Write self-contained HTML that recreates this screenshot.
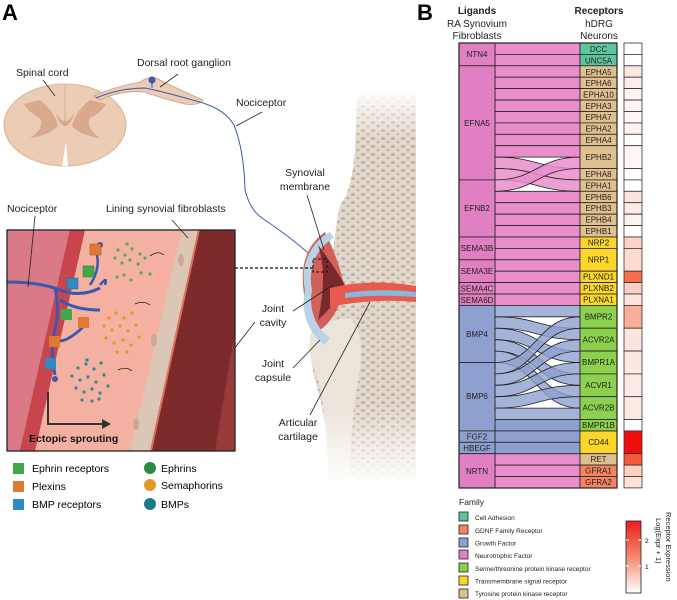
<!DOCTYPE html>
<html><head><meta charset="utf-8"><style>
body{margin:0;background:#fff;}
svg{display:block;font-family:"Liberation Sans",sans-serif;}
</style></head><body>
<svg width="677" height="600" viewBox="0 0 677 600" xmlns="http://www.w3.org/2000/svg">
<defs>
<linearGradient id="fadeTop" x1="0" y1="0" x2="0" y2="1">
<stop offset="0" stop-color="#fff" stop-opacity="1"/><stop offset="0.12" stop-color="#fff" stop-opacity="0"/>
</linearGradient>
<linearGradient id="fadeBot" x1="0" y1="0" x2="0" y2="1">
<stop offset="0.8" stop-color="#fff" stop-opacity="0"/><stop offset="1" stop-color="#fff" stop-opacity="1"/>
</linearGradient>
<linearGradient id="cbar" x1="0" y1="1" x2="0" y2="0">
<stop offset="0" stop-color="#fff"/><stop offset="0.5" stop-color="#f58a6f"/><stop offset="1" stop-color="#ee1c1c"/>
</linearGradient>
<clipPath id="inset"><rect x="7" y="230" width="228" height="221"/></clipPath>
<pattern id="spots" width="10" height="8" patternUnits="userSpaceOnUse">
<rect width="10" height="8" fill="#e2d9ce"/>
<ellipse cx="3" cy="2.5" rx="2.3" ry="1.5" fill="#c4b3a2"/><ellipse cx="8" cy="6" rx="1.8" ry="1.3" fill="#c4b3a2"/>
</pattern>
</defs>

<text x="2" y="20" font-size="22" font-weight="bold">A</text>
<text x="417" y="20" font-size="22" font-weight="bold">B</text>

<!-- Spinal cord -->
<ellipse cx="65" cy="125" rx="61" ry="41" fill="#ecccb4" stroke="#d8b49a" stroke-width="1"/>
<path d="M62,166 L68,166 L66,142 Z" fill="#fff"/>
<path d="M40,100 Q55,112 58,126 Q50,135 30,138 Q45,128 40,118 Q28,112 24,104 Z M90,100 Q75,112 72,126 Q80,135 100,138 Q85,128 90,118 Q102,112 106,104 Z" fill="#d9a88e"/>
<path d="M55,112 Q65,130 75,112 Q65,140 55,112" fill="#d9a88e"/>
<line x1="65" y1="86" x2="65" y2="126" stroke="#c9a088" stroke-width="0.6"/>
<text x="16" y="76" font-size="10.5" fill="#222">Spinal cord</text>
<line x1="43" y1="80" x2="55" y2="96" stroke="#222" stroke-width="0.8"/>
<!-- DRG -->
<path d="M94,96 Q110,88 140,82 Q152,74 160,80 Q180,90 203,100 Q198,106 185,104 Q160,98 145,92 Q120,90 100,100 Z" fill="#ecccb4" stroke="#c7a07e" stroke-width="0.8"/>
<circle cx="152" cy="80" r="3.5" fill="#3b58b0"/>
<path d="M96,98 Q120,88 145,88 Q165,92 203,103 Q225,110 234,125 Q244,150 245,190 Q250,210 262,218 Q295,240 318,262" fill="none" stroke="#3b58b0" stroke-width="1"/>
<path d="M152,80 L152,88" stroke="#3b58b0" stroke-width="1"/>
<text x="137" y="66" font-size="10.5" fill="#222">Dorsal root ganglion</text>
<line x1="160" y1="87" x2="178" y2="74" stroke="#222" stroke-width="0.8"/>
<text x="236" y="106" font-size="10.5" fill="#222">Nociceptor</text>
<line x1="236" y1="126" x2="262" y2="112" stroke="#222" stroke-width="0.8"/>

<!-- Joint -->
<path d="M357,95 L416,95 L416,480 L330,480 Q330,430 315,380 Q305,340 318,320 Q335,300 365,300 Q330,290 333,250 Q336,225 340,205 Q352,190 355,150 Z" fill="url(#spots)"/>
<path d="M312,330 Q325,320 350,318 Q365,330 360,370 Q350,420 350,480 L328,480 Q328,420 318,380 Q305,350 312,330 Z" fill="#ebe4da"/>
<path d="M303,285 Q300,250 325,232 Q340,262 345,290 Q335,320 320,330 Q305,315 303,285 Z" fill="#d2605a"/>
<path d="M305,290 A45,50 0 0 1 330,232 L334,238 A40,45 0 0 0 312,290 A40,45 0 0 0 330,338 L325,345 A45,50 0 0 1 305,290 Z" fill="#b8d3e6"/>
<path d="M318,245 Q328,275 318,320 Q340,300 345,285 Q330,260 318,245 Z" fill="#7a2a2a"/>
<path d="M330,288 Q370,278 416,286 L416,302 Q370,298 330,307 Z" fill="#e85a4e"/>
<path d="M345,293 Q380,288 416,292 L416,297 Q380,294 345,298 Z" fill="#8ab8da"/>
<rect x="295" y="90" width="125" height="395" fill="url(#fadeTop)"/>
<rect x="295" y="90" width="125" height="395" fill="url(#fadeBot)"/>
<rect x="313" y="259" width="14" height="13" fill="none" stroke="#111" stroke-width="1" stroke-dasharray="3,2"/>
<line x1="235" y1="268" x2="313" y2="268" stroke="#111" stroke-width="1.2" stroke-dasharray="3,2"/>
<text x="305" y="176" font-size="10.5" fill="#222" text-anchor="middle">Synovial</text>
<text x="305" y="190" font-size="10.5" fill="#222" text-anchor="middle">membrane</text>
<line x1="307" y1="195" x2="324" y2="250" stroke="#222" stroke-width="0.8"/>
<text x="273" y="312" font-size="10.5" fill="#222" text-anchor="middle">Joint</text>
<text x="273" y="326" font-size="10.5" fill="#222" text-anchor="middle">cavity</text>
<line x1="293" y1="311" x2="333" y2="285" stroke="#222" stroke-width="0.8"/>
<text x="273" y="367" font-size="10.5" fill="#222" text-anchor="middle">Joint</text>
<text x="273" y="381" font-size="10.5" fill="#222" text-anchor="middle">capsule</text>
<line x1="293" y1="368" x2="320" y2="340" stroke="#222" stroke-width="0.8"/>
<text x="298" y="426" font-size="10.5" fill="#222" text-anchor="middle">Articular</text>
<text x="298" y="440" font-size="10.5" fill="#222" text-anchor="middle">cartilage</text>
<line x1="310" y1="415" x2="370" y2="302" stroke="#222" stroke-width="0.8"/>
<line x1="223" y1="363" x2="255" y2="322" stroke="#222" stroke-width="0.8"/>

<!-- Inset -->
<g clip-path="url(#inset)">
<rect x="7" y="230" width="228" height="221" fill="#8a3030"/>
<polygon points="7,230 70,230 20,451 7,451" fill="#d97a86"/>
<polygon points="70,230 85,230 35,451 20,451" fill="#c9454d"/>
<polygon points="85,230 182,230 135,451 35,451" fill="#f4b1a1"/>
<polygon points="182,230 198,230 150,451 130,451" fill="#dcc6b6"/>
<polygon points="198,230 200,230 152,451 150,451" fill="#e07060"/>
<polygon points="200,230 235,230 235,451 152,451" fill="#7c2a2a"/>
<polygon points="215,451 235,330 235,451" fill="#963a3a"/>
<ellipse cx="181" cy="260" rx="3" ry="6" fill="#c9aa98"/>
<ellipse cx="154" cy="340" rx="3" ry="6" fill="#c9aa98"/>
<ellipse cx="136" cy="424" rx="3" ry="6" fill="#c9aa98"/>
</g>
<path d="M7,282 Q40,282 60,290 Q80,298 100,288 M55,288 Q60,310 55,330 Q50,350 55,375 M60,300 Q75,310 100,310 M55,340 Q65,345 85,325" fill="none" stroke="#3b58b0" stroke-width="3"/>
<path d="M90,285 Q100,270 97,255 M100,285 Q108,275 105,285" fill="none" stroke="#3b58b0" stroke-width="2.5"/>
<circle cx="100" cy="245" r="3" fill="#3b58b0"/>
<circle cx="55" cy="379" r="3" fill="#3b58b0"/>
<rect x="90" y="244" width="11" height="11" fill="#e07a30" stroke="#a05020" stroke-width="0.5"/>
<rect x="83" y="266" width="11" height="11" fill="#41a84a" stroke="#2a7a30" stroke-width="0.5"/>
<rect x="67" y="278" width="11" height="11" fill="#2f8ac4" stroke="#1a6090" stroke-width="0.5"/>
<rect x="61" y="309" width="11" height="11" fill="#41a84a"/>
<rect x="78" y="317" width="11" height="11" fill="#e07a30"/>
<rect x="49" y="336" width="11" height="11" fill="#e07a30"/>
<rect x="45" y="358" width="11" height="11" fill="#2f8ac4"/>
<g fill="#56a860">
<circle cx="118" cy="250" r="1.6"/><circle cx="125" cy="255" r="1.6"/><circle cx="132" cy="249" r="1.6"/><circle cx="140" cy="254" r="1.6"/><circle cx="115" cy="258" r="1.6"/><circle cx="122" cy="263" r="1.6"/><circle cx="130" cy="260" r="1.6"/><circle cx="138" cy="264" r="1.6"/><circle cx="145" cy="258" r="1.6"/><circle cx="127" cy="244" r="1.6"/><circle cx="117" cy="277" r="1.6"/><circle cx="124" cy="275" r="1.6"/><circle cx="131" cy="280" r="1.6"/><circle cx="141" cy="273" r="1.6"/><circle cx="150" cy="274" r="1.6"/>
</g>
<g fill="#e39a25">
<circle cx="109" cy="318" r="1.6"/><circle cx="116" cy="313" r="1.6"/><circle cx="124" cy="318" r="1.6"/><circle cx="132" cy="313" r="1.6"/><circle cx="104" cy="326" r="1.6"/><circle cx="112" cy="330" r="1.6"/><circle cx="120" cy="326" r="1.6"/><circle cx="128" cy="331" r="1.6"/><circle cx="136" cy="325" r="1.6"/><circle cx="106" cy="338" r="1.6"/><circle cx="114" cy="343" r="1.6"/><circle cx="123" cy="340" r="1.6"/><circle cx="131" cy="345" r="1.6"/><circle cx="139" cy="337" r="1.6"/><circle cx="117" cy="352" r="1.6"/><circle cx="127" cy="352" r="1.6"/>
</g>
<g fill="#2a8a9a">
<circle cx="78" cy="368" r="1.6"/><circle cx="86" cy="364" r="1.6"/><circle cx="94" cy="369" r="1.6"/><circle cx="101" cy="363" r="1.6"/><circle cx="72" cy="376" r="1.6"/><circle cx="80" cy="380" r="1.6"/><circle cx="88" cy="377" r="1.6"/><circle cx="96" cy="382" r="1.6"/><circle cx="104" cy="375" r="1.6"/><circle cx="76" cy="388" r="1.6"/><circle cx="84" cy="392" r="1.6"/><circle cx="92" cy="389" r="1.6"/><circle cx="100" cy="393" r="1.6"/><circle cx="108" cy="386" r="1.6"/><circle cx="82" cy="400" r="1.6"/><circle cx="92" cy="401" r="1.6"/><circle cx="99" cy="399" r="1.6"/><circle cx="87" cy="360" r="1.6"/>
</g>
<g fill="none" stroke="#222" stroke-width="0.8">
<path d="M150,256 Q158,250 164,255"/><path d="M135,304 Q143,300 150,305"/><path d="M118,370 Q126,366 132,371"/>
</g>
<path d="M48,392 L48,424 L104,424" fill="none" stroke="#333" stroke-width="2"/>
<polygon points="102,419 111,424 102,429" fill="#333"/>
<text x="29" y="442" font-size="10.5" font-weight="bold" fill="#111">Ectopic sprouting</text>
<rect x="7" y="230" width="228" height="221" fill="none" stroke="#222" stroke-width="1.3"/>
<text x="7" y="212" font-size="10.5" fill="#222">Nociceptor</text>
<line x1="35" y1="216" x2="28" y2="287" stroke="#222" stroke-width="0.8"/>
<text x="106" y="212" font-size="10.5" fill="#222">Lining synovial fibroblasts</text>
<line x1="172" y1="220" x2="188" y2="238" stroke="#222" stroke-width="0.8"/>

<rect x="13" y="463" width="11" height="11" fill="#41a84a"/><text x="32" y="472" font-size="10.5">Ephrin receptors</text>
<rect x="13" y="481" width="11" height="11" fill="#e07a30"/><text x="32" y="490" font-size="10.5">Plexins</text>
<rect x="13" y="499" width="11" height="11" fill="#2f8ac4"/><text x="32" y="508" font-size="10.5">BMP receptors</text>
<circle cx="150" cy="468" r="6" fill="#2e8a40"/><text x="161" y="472" font-size="10.5">Ephrins</text>
<circle cx="150" cy="485" r="6" fill="#e39a25"/><text x="161" y="489" font-size="10.5">Semaphorins</text>
<circle cx="150" cy="504" r="6" fill="#1a7a8a"/><text x="161" y="508" font-size="10.5">BMPs</text>

<g font-size="10" fill="#222" text-anchor="middle">
<text x="477" y="14" font-weight="bold">Ligands</text><text x="477" y="27">RA Synovium</text><text x="477" y="39">Fibroblasts</text>
<text x="599" y="14" font-weight="bold">Receptors</text><text x="599" y="27">hDRG</text><text x="599" y="39">Neurons</text>
</g>

<g stroke="#222" stroke-width="0.8">
<g fill="#e98ecb">
<rect x="495" y="43" width="85" height="11.4"/><rect x="495" y="54.4" width="85" height="11.4"/><rect x="495" y="65.8" width="85" height="11.4"/><rect x="495" y="77.2" width="85" height="11.4"/><rect x="495" y="88.6" width="85" height="11.4"/><rect x="495" y="100.1" width="85" height="11.4"/><rect x="495" y="111.5" width="85" height="11.4"/><rect x="495" y="122.9" width="85" height="11.4"/><rect x="495" y="134.3" width="85" height="11.4"/><rect x="495" y="145.7" width="85" height="11.4"/>
<rect x="495" y="191.3" width="85" height="11.4"/><rect x="495" y="202.7" width="85" height="11.4"/><rect x="495" y="214.2" width="85" height="11.4"/><rect x="495" y="225.6" width="85" height="11.4"/><rect x="495" y="237" width="85" height="11.4"/><rect x="495" y="248.4" width="85" height="11.4"/><rect x="495" y="259.8" width="85" height="11.4"/><rect x="495" y="271.2" width="85" height="11.4"/><rect x="495" y="282.6" width="85" height="11.4"/><rect x="495" y="294" width="85" height="11.4"/>
<rect x="495" y="453.7" width="85" height="11.4"/><rect x="495" y="465.1" width="85" height="11.4"/><rect x="495" y="476.5" width="85" height="11.4"/>
</g>
<g fill="#e98ecb" fill-opacity="0.85">
<path d="M495,157.1 C537,157.1 537,168.5 580,168.5 L580,179.9 C537,179.9 537,168.5 495,168.5 Z"/>
<path d="M495,168.5 C537,168.5 537,179.9 580,179.9 L580,191.3 C537,191.3 537,179.9 495,179.9 Z"/>
<path d="M495,179.9 C537,179.9 537,157.1 580,157.1 L580,168.5 C537,168.5 537,191.3 495,191.3 Z"/>
</g>
<g fill="#8ea0d0">
<rect x="495" y="419.5" width="85" height="11.4"/><rect x="495" y="430.9" width="85" height="11.4"/><rect x="495" y="442.3" width="85" height="11.4"/>
</g>
<g fill="#8ea0d0" fill-opacity="0.8">
<path d="M495,305.4 L580,305.4 L580,316.8 L495,316.8 Z"/>
<path d="M495,316.8 C537,316.8 537,328.3 580,328.3 L580,339.7 C537,339.7 537,328.2 495,328.2 Z"/>
<path d="M495,328.2 C537,328.2 537,351.1 580,351.1 L580,362.5 C537,362.5 537,339.7 495,339.7 Z"/>
<path d="M495,339.7 C537,339.7 537,373.9 580,373.9 L580,385.3 C537,385.3 537,351.1 495,351.1 Z"/>
<path d="M495,351.1 C537,351.1 537,396.7 580,396.7 L580,408.1 C537,408.1 537,362.5 495,362.5 Z"/>
<path d="M495,362.5 C537,362.5 537,316.8 580,316.8 L580,328.3 C537,328.3 537,373.9 495,373.9 Z"/>
<path d="M495,373.9 C537,373.9 537,339.7 580,339.7 L580,351.1 C537,351.1 537,385.3 495,385.3 Z"/>
<path d="M495,385.3 C537,385.3 537,362.5 580,362.5 L580,373.9 C537,373.9 537,396.7 495,396.7 Z"/>
<path d="M495,396.7 C537,396.7 537,385.3 580,385.3 L580,396.7 C537,396.7 537,408.1 495,408.1 Z"/>
<path d="M495,408.1 L580,408.1 L580,419.5 L495,419.5 Z"/>
</g>
<rect x="459" y="43" width="36" height="22.8" fill="#e07fc1"/>
<rect x="459" y="65.8" width="36" height="114.1" fill="#e07fc1"/>
<rect x="459" y="179.9" width="36" height="57.1" fill="#e07fc1"/>
<rect x="459" y="237" width="36" height="22.8" fill="#e07fc1"/>
<rect x="459" y="259.8" width="36" height="22.8" fill="#e07fc1"/>
<rect x="459" y="282.6" width="36" height="11.4" fill="#e07fc1"/>
<rect x="459" y="294" width="36" height="11.4" fill="#e07fc1"/>
<rect x="459" y="305.4" width="36" height="57.1" fill="#8ea0d0"/>
<rect x="459" y="362.5" width="36" height="68.4" fill="#8ea0d0"/>
<rect x="459" y="430.9" width="36" height="11.4" fill="#8ea0d0"/>
<rect x="459" y="442.3" width="36" height="11.4" fill="#8ea0d0"/>
<rect x="459" y="453.7" width="36" height="34.3" fill="#e07fc1"/>
<rect x="580" y="43" width="37" height="11.4" fill="#5cc69e"/><rect x="580" y="54.4" width="37" height="11.4" fill="#5cc69e"/>
<g fill="#e0c08e">
<rect x="580" y="65.8" width="37" height="11.4"/><rect x="580" y="77.2" width="37" height="11.4"/><rect x="580" y="88.6" width="37" height="11.4"/><rect x="580" y="100.1" width="37" height="11.4"/><rect x="580" y="111.5" width="37" height="11.4"/><rect x="580" y="122.9" width="37" height="11.4"/><rect x="580" y="134.3" width="37" height="11.4"/><rect x="580" y="145.7" width="37" height="22.8"/><rect x="580" y="168.5" width="37" height="11.4"/><rect x="580" y="179.9" width="37" height="11.4"/><rect x="580" y="191.3" width="37" height="11.4"/><rect x="580" y="202.7" width="37" height="11.4"/><rect x="580" y="214.2" width="37" height="11.4"/><rect x="580" y="225.6" width="37" height="11.4"/>
</g>
<g fill="#fdd62a">
<rect x="580" y="237" width="37" height="11.4"/><rect x="580" y="248.4" width="37" height="22.8"/><rect x="580" y="271.2" width="37" height="11.4"/><rect x="580" y="282.6" width="37" height="11.4"/><rect x="580" y="294" width="37" height="11.4"/><rect x="580" y="430.9" width="37" height="22.8"/>
</g>
<g fill="#8dd04e">
<rect x="580" y="305.4" width="37" height="22.8"/><rect x="580" y="328.2" width="37" height="22.8"/><rect x="580" y="351.1" width="37" height="22.8"/><rect x="580" y="373.9" width="37" height="22.8"/><rect x="580" y="396.7" width="37" height="22.8"/><rect x="580" y="419.5" width="37" height="11.4"/>
</g>
<rect x="580" y="453.7" width="37" height="11.4" fill="#e0c08e"/>
<rect x="580" y="465.1" width="37" height="11.4" fill="#f4855f"/>
<rect x="580" y="476.5" width="37" height="11.4" fill="#f4855f"/>
</g>
<rect x="459" y="43" width="158" height="445" fill="none" stroke="#222" stroke-width="1.2"/>

<g font-size="8" fill="#222" text-anchor="middle">
<text x="477" y="57">NTN4</text><text x="477" y="126">EFNA5</text><text x="477" y="211">EFNB2</text>
<text x="477" y="251">SEMA3B</text><text x="477" y="274">SEMA3E</text><text x="477" y="291.5">SEMA4C</text><text x="477" y="303">SEMA6D</text>
<text x="477" y="337">BMP4</text><text x="477" y="399">BMP6</text><text x="477" y="439.5">FGF2</text><text x="477" y="451">HBEGF</text><text x="477" y="474">NRTN</text>
<text x="598.5" y="52">DCC</text><text x="598.5" y="63.5">UNC5A</text><text x="598.5" y="75">EPHA5</text><text x="598.5" y="86">EPHA6</text><text x="598.5" y="97.5">EPHA10</text><text x="598.5" y="109">EPHA3</text><text x="598.5" y="120">EPHA7</text><text x="598.5" y="131.5">EPHA2</text><text x="598.5" y="143">EPHA4</text><text x="598.5" y="160">EPHB2</text><text x="598.5" y="177">EPHA8</text><text x="598.5" y="188.5">EPHA1</text><text x="598.5" y="200">EPHB6</text><text x="598.5" y="211">EPHB3</text><text x="598.5" y="222.5">EPHB4</text><text x="598.5" y="234">EPHB1</text>
<text x="598.5" y="245.5">NRP2</text><text x="598.5" y="262.5">NRP1</text><text x="598.5" y="279.5">PLXND1</text><text x="598.5" y="291">PLXNB2</text><text x="598.5" y="302.5">PLXNA1</text>
<text x="598.5" y="319.5">BMPR2</text><text x="598.5" y="342.5">ACVR2A</text><text x="598.5" y="365">BMPR1A</text><text x="598.5" y="388">ACVR1</text><text x="598.5" y="410.5">ACVR2B</text><text x="598.5" y="428">BMPR1B</text>
<text x="598.5" y="445">CD44</text><text x="598.5" y="462">RET</text><text x="598.5" y="473.5">GFRA1</text><text x="598.5" y="485">GFRA2</text>
</g>

<g stroke="#333" stroke-width="0.8">
<rect x="624" y="43" width="18" height="11.4" fill="#fff"/><rect x="624" y="54.4" width="18" height="11.4" fill="#fff"/>
<rect x="624" y="65.8" width="18" height="11.4" fill="#fde6df"/><rect x="624" y="77.2" width="18" height="11.4" fill="#fdeee9"/><rect x="624" y="88.6" width="18" height="11.4" fill="#fef5f2"/><rect x="624" y="100.1" width="18" height="11.4" fill="#fef5f2"/><rect x="624" y="111.5" width="18" height="11.4" fill="#fff8f6"/><rect x="624" y="122.9" width="18" height="11.4" fill="#fef3f0"/><rect x="624" y="134.3" width="18" height="11.4" fill="#fff"/>
<rect x="624" y="145.7" width="18" height="22.8" fill="#fff7f5"/><rect x="624" y="168.5" width="18" height="11.4" fill="#fff"/><rect x="624" y="179.9" width="18" height="11.4" fill="#fff"/>
<rect x="624" y="191.3" width="18" height="11.4" fill="#fde4dc"/><rect x="624" y="202.7" width="18" height="11.4" fill="#fdeae4"/><rect x="624" y="214.2" width="18" height="11.4" fill="#fef2ee"/><rect x="624" y="225.6" width="18" height="11.4" fill="#fff"/>
<rect x="624" y="237" width="18" height="11.4" fill="#fcd4c7"/><rect x="624" y="248.4" width="18" height="22.8" fill="#fcdcd1"/><rect x="624" y="271.2" width="18" height="11.4" fill="#f76f4f"/><rect x="624" y="282.6" width="18" height="11.4" fill="#fcd1c3"/><rect x="624" y="294" width="18" height="11.4" fill="#fde3da"/>
<rect x="624" y="305.4" width="18" height="22.8" fill="#f9ae98"/><rect x="624" y="328.2" width="18" height="22.8" fill="#fde5de"/><rect x="624" y="351.1" width="18" height="22.8" fill="#fde8e1"/><rect x="624" y="373.9" width="18" height="22.8" fill="#fde9e3"/><rect x="624" y="396.7" width="18" height="22.8" fill="#fde9e3"/><rect x="624" y="419.5" width="18" height="11.4" fill="#fff"/>
<rect x="624" y="430.9" width="18" height="22.8" fill="#f20d0d"/><rect x="624" y="453.7" width="18" height="11.4" fill="#f25a3e"/><rect x="624" y="465.1" width="18" height="11.4" fill="#fcd1c2"/><rect x="624" y="476.5" width="18" height="11.4" fill="#fde3da"/>
</g>

<text x="459" y="505" font-size="8.5" fill="#222">Family</text>
<g stroke="#222" stroke-width="0.8">
<rect x="459" y="512" width="9" height="9" fill="#5cc69e"/><rect x="459" y="525" width="9" height="9" fill="#f4855f"/><rect x="459" y="538" width="9" height="9" fill="#8ea0d0"/><rect x="459" y="550" width="9" height="9" fill="#e07fc1"/><rect x="459" y="563" width="9" height="9" fill="#8dd04e"/><rect x="459" y="576" width="9" height="9" fill="#fdd62a"/><rect x="459" y="589" width="9" height="9" fill="#e0c08e"/>
</g>
<g font-size="6.5" fill="#222">
<text x="475" y="520">Cell Adhesion</text><text x="475" y="533">GDNF Family Receptor</text><text x="475" y="545.5">Growth Factor</text><text x="475" y="558">Neurotrophic Factor</text><text x="475" y="571">Serine/threonine protein kinase receptor</text><text x="475" y="583.5">Transmembrane signal receptor</text><text x="475" y="596">Tyrosine protein kinase receptor</text>
</g>
<rect x="626" y="521" width="15" height="72" fill="url(#cbar)" stroke="#222" stroke-width="0.8"/>
<line x1="626" y1="540" x2="629" y2="540" stroke="#fff"/><line x1="638" y1="540" x2="641" y2="540" stroke="#fff"/>
<line x1="626" y1="566" x2="629" y2="566" stroke="#fff"/><line x1="638" y1="566" x2="641" y2="566" stroke="#fff"/>
<text x="645" y="543" font-size="6.5">2</text><text x="645" y="569" font-size="6.5">1</text>
<text transform="translate(666,512) rotate(90)" font-size="7.5" fill="#222">Receptor Expression</text>
<text transform="translate(656,518) rotate(90)" font-size="7.5" fill="#222">Log(Expr + 1)</text>
</svg>
</body></html>
